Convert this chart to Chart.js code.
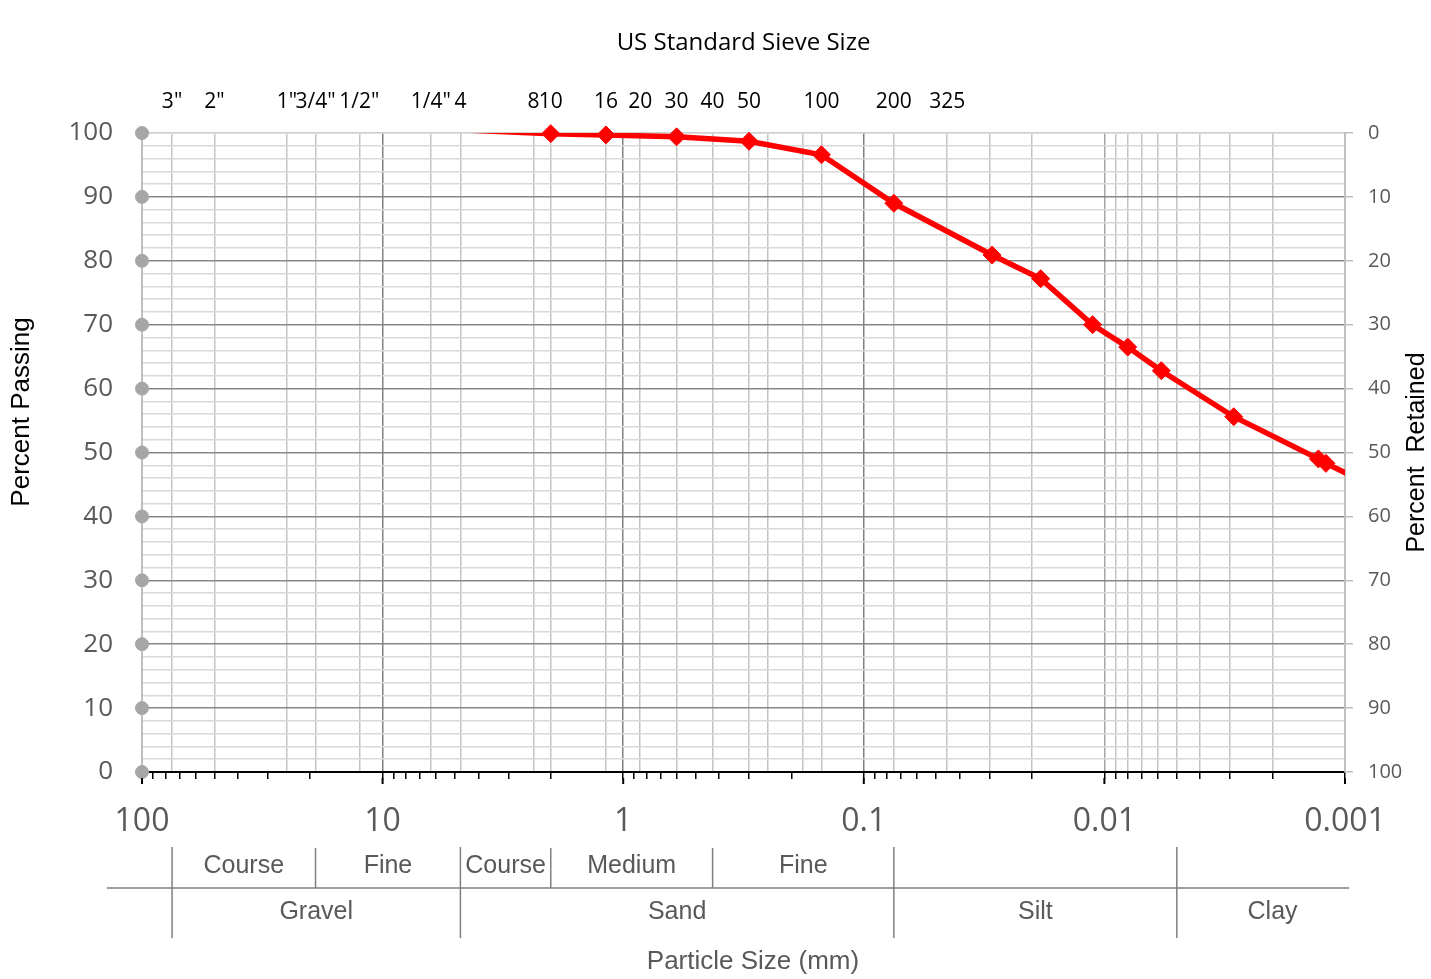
<!DOCTYPE html>
<html>
<head>
<meta charset="utf-8">
<script src="https://cdn.jsdelivr.net/npm/chart.js@4.4.0/dist/chart.umd.min.js"></script>
<style>
  html, body { margin: 0; padding: 0; background: #fff; }
</style>
</head>
<body>
<canvas id="chartCanvas" width="1431" height="979"></canvas>
<script>
// --- data: grain size test (mm) vs percent passing ---
const sizes   = [4.75, 2.0, 1.18, 0.6, 0.3, 0.15, 0.075, 0.0293, 0.0184, 0.0112, 0.0080, 0.0058, 0.0029, 0.00129, 0.0012, 0.0009];
const passing = [100.5, 99.9, 99.7, 99.4, 98.7, 96.6, 89.0, 80.9, 77.2, 70.0, 66.5, 62.8, 55.6, 49.0, 48.3, 46.0];
const marked  = [false, true, true, true, true, true, true, true, true, true, true, true, true, true, true, false];

// grey dots sitting on the left axis
const dotLevels = [0, 10, 20, 30, 40, 50, 60, 70, 80, 90, 100];

// bottom axis decades
const decades = [100, 10, 1, 0.1, 0.01, 0.001];
const decadeLabels = ["100", "10", "1", "0.1", "0.01", "0.001"];

// top axis: sieve openings (mm) and their names
const sieveSizes  = [75, 50, 25, 19, 12.5, 6.3, 4.75, 2.36, 2.0, 1.18, 0.85, 0.6, 0.425, 0.3, 0.25, 0.18, 0.15, 0.075, 0.045];
const sieveLabels = ['3"', '2"', '1"', '3/4"', '1/2"', '1/4"', '4', '8', '10', '16', '20', '30', '40', '50', '', '', '100', '200', '325'];
// extra grid lines in the fine range (hydrometer sizes)
const fineGrid = [0.03, 0.02, 0.009, 0.008, 0.007, 0.006, 0.005, 0.004, 0.003, 0.002];

// classification table under the chart
const upperBounds = [75, 19, 4.75, 2.0, 0.425, 0.075];
const upperNames  = ["Course", "Fine", "Course", "Medium", "Fine"];
const lowerBounds = [75, 4.75, 0.075, 0.005, 0.0008];
const lowerNames  = ["Gravel", "Sand", "Silt", "Clay"];
const fullBounds  = [75, 4.75, 0.075, 0.005];
const halfBounds  = [19, 2.0, 0.425];

Chart.defaults.font.family = "'Open Sans', 'Noto Sans', sans-serif";
const ARIAL = "'Liberation Sans', Arial, sans-serif";

const points = sizes.map((s, i) => ({ x: s, y: passing[i] }));

// --- plugin: axis titles drawn by hand, longer decade ticks, classification table ---
const extrasPlugin = {
  id: "extras",
  afterDraw(chart) {
    const ctx = chart.ctx;
    const ca = chart.chartArea;
    const px = v => chart.scales.x.getPixelForValue(v);

    // longer tick marks on the decades
    ctx.save();
    ctx.strokeStyle = "#000";
    ctx.lineWidth = 2;
    ctx.beginPath();
    decades.forEach(d => { ctx.moveTo(px(d), ca.bottom + 6); ctx.lineTo(px(d), ca.bottom + 12); });
    ctx.stroke();
    ctx.restore();

    ctx.save();
    ctx.font = "25px " + ARIAL;
    ctx.fillStyle = "#000";
    ctx.textAlign = "center";
    ctx.textBaseline = "middle";
    // left title
    ctx.save();
    ctx.translate(22, 412);
    ctx.rotate(-Math.PI / 2);
    ctx.font = "26px " + ARIAL;
    ctx.fillText("Percent Passing", 0, 0);
    ctx.restore();
    // right title
    ctx.save();
    ctx.translate(chart.width - 14, (ca.top + ca.bottom) / 2);
    ctx.rotate(-Math.PI / 2);
    ctx.fillText("Percent  Retained", 0, 0);
    ctx.restore();
    // bottom title
    ctx.font = "26px " + ARIAL;
    ctx.fillStyle = "#595959";
    ctx.fillText("Particle Size (mm)", 753, 962);
    ctx.restore();

    ctx.save();
    ctx.strokeStyle = "#808080";
    ctx.lineWidth = 1.5;
    ctx.beginPath();
    ctx.moveTo(107, 888); ctx.lineTo(1349, 888);
    fullBounds.forEach(b => { ctx.moveTo(px(b), 847); ctx.lineTo(px(b), 938); });
    halfBounds.forEach(b => { ctx.moveTo(px(b), 848); ctx.lineTo(px(b), 888); });
    ctx.stroke();

    ctx.font = "25px " + ARIAL;
    ctx.fillStyle = "#595959";
    ctx.textAlign = "center";
    ctx.textBaseline = "middle";
    upperNames.forEach((n, i) => {
      ctx.fillText(n, (px(upperBounds[i]) + px(upperBounds[i + 1])) / 2, 866);
    });
    lowerNames.forEach((n, i) => {
      ctx.fillText(n, (px(lowerBounds[i]) + px(lowerBounds[i + 1])) / 2, 912);
    });
    ctx.restore();
  }
};

new Chart(document.getElementById("chartCanvas"), {
  type: "line",
  data: {
    datasets: [
      {
        label: "markers",
        data: points,
        showLine: false,
        pointStyle: "rectRot",
        pointRadius: ctx => marked[ctx.dataIndex] ? 9 : 0,
        backgroundColor: "#ff0000",
        borderColor: "#ff0000",
        borderWidth: 1,
        clip: false,
        xAxisID: "x",
        yAxisID: "y"
      },
      {
        label: "Percent Passing",
        data: points,
        borderColor: "#ff0000",
        borderWidth: 5.5,
        pointRadius: 0,
        fill: false,
        tension: 0,
        clip: 0,
        xAxisID: "x",
        yAxisID: "y"
      },
      {
        label: "axis dots",
        data: dotLevels.map(v => ({ x: 100, y: v })),
        showLine: false,
        pointRadius: 6.5,
        backgroundColor: "#a6a6a6",
        borderColor: "#a6a6a6",
        clip: false,
        xAxisID: "x",
        yAxisID: "y"
      }
    ]
  },
  options: {
    responsive: false,
    animation: false,
    layout: { padding: 0 },
    plugins: {
      legend: { display: false },
      tooltip: { enabled: false }
    },
    scales: {
      x: {
        type: "logarithmic",
        position: "bottom",
        reverse: true,
        min: 0.001,
        max: 100,
        afterBuildTicks: s => {
          const t = [];
          decades.forEach((d, i) => {
            t.push({ value: d, major: true, name: decadeLabels[i] });
            if (i < decades.length - 1) {
              for (let m = 9; m >= 2; m--) t.push({ value: d * m / 10, major: false, name: "" });
            }
          });
          s.ticks = t;
        },
        afterFit: s => { s.height = 207; },
        ticks: {
          autoSkip: false,
          maxRotation: 0,
          minRotation: 0,
          padding: 24,
          color: "#595959",
          font: { size: 32 },
          callback: (v, i, ticks) => ticks[i].name
        },
        grid: {
          color: ctx => {
            const v = ctx.tick ? ctx.tick.value : 0;
            if (!ctx.tick || !ctx.tick.major || v === 100 || v === 0.001) return "rgba(0,0,0,0)";
            return v === 0.01 ? "#a6a6a6" : "#808080";
          },
          tickColor: "#000",
          tickLength: 7,
          lineWidth: 1.5
        },
        border: { color: "#000", width: 2 }
      },
      x2: {
        type: "logarithmic",
        position: "top",
        reverse: true,
        min: 0.001,
        max: 100,
        afterBuildTicks: s => {
          const t = sieveSizes.map((v, i) => ({ value: v, name: sieveLabels[i] }));
          fineGrid.forEach(v => t.push({ value: v, name: "" }));
          s.ticks = t;
        },
        afterFit: s => { s.height = 133; },
        ticks: {
          autoSkip: false,
          maxRotation: 0,
          minRotation: 0,
          padding: 18,
          color: "#000",
          font: { size: 21 },
          callback: (v, i, ticks) => ticks[i].name
        },
        grid: {
          color: "#c4c4c4",
          lineWidth: 1.5,
          drawTicks: false
        },
        border: { color: "#cfcfcf", width: 1.5 },
        title: {
          display: true,
          text: "US Standard Sieve Size",
          color: "#000",
          font: { size: 24 },
          padding: { top: 29, bottom: 0 }
        }
      },
      y: {
        type: "linear",
        position: "left",
        min: 0,
        max: 100,
        afterFit: s => { s.width = 142; },
        ticks: {
          stepSize: 2,
          autoSkip: false,
          padding: 29,
          color: "#595959",
          font: { size: 26 },
          callback: v => (v % 10 === 0 ? String(v) : "")
        },
        grid: {
          color: ctx => {
            const v = ctx.tick ? ctx.tick.value : 0;
            return (v % 10 === 0 && v !== 100) ? "#878787" : "#d9d9d9";
          },
          lineWidth: 1.5,
          drawTicks: false
        },
        border: { color: "#bfbfbf", width: 2 }
      },
      y2: {
        type: "linear",
        position: "right",
        reverse: true,
        min: 0,
        max: 100,
        afterFit: s => { s.width = 86; },
        ticks: {
          stepSize: 10,
          padding: 15,
          color: "#595959",
          font: { size: 20 }
        },
        grid: {
          drawOnChartArea: false,
          tickColor: "#bfbfbf",
          tickLength: 8,
          lineWidth: 1.5
        },
        border: { color: "#bfbfbf", width: 2 }
      }
    }
  },
  plugins: [extrasPlugin]
});
</script>
</body>
</html>
